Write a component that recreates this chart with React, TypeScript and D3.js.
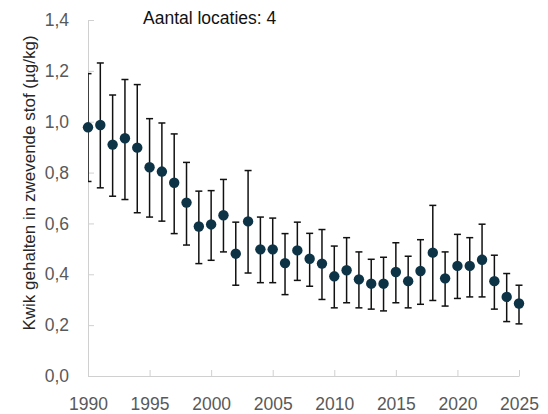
import React, { useEffect, useRef } from 'react';
import * as d3 from 'd3';

// jaartallen en waarden
const years = d3.range(1990, 2026);
const means = [
  0.978, 0.987, 0.91, 0.935, 0.898, 0.821, 0.804, 0.76, 0.682, 0.588,
  0.596, 0.632, 0.481, 0.608, 0.498, 0.498, 0.444, 0.494, 0.461, 0.442,
  0.392, 0.416, 0.38, 0.363, 0.363, 0.409, 0.373, 0.413, 0.485, 0.384,
  0.433, 0.433, 0.457, 0.373, 0.311, 0.285,
];
const upper = [
  1.189, 1.231, 1.105, 1.166, 1.146, 1.012, 0.995, 0.952, 0.84, 0.727,
  0.729, 0.773, 0.605, 0.808, 0.625, 0.621, 0.56, 0.605, 0.561, 0.576,
  0.511, 0.544, 0.488, 0.459, 0.467, 0.524, 0.471, 0.536, 0.671, 0.488,
  0.557, 0.544, 0.597, 0.475, 0.403, 0.357,
];
const lower = [
  0.765, 0.74, 0.707, 0.694, 0.642, 0.625, 0.609, 0.56, 0.515, 0.442,
  0.455, 0.488, 0.357, 0.405, 0.367, 0.367, 0.32, 0.376, 0.353, 0.301,
  0.268, 0.288, 0.268, 0.263, 0.256, 0.288, 0.268, 0.282, 0.297, 0.275,
  0.305, 0.311, 0.311, 0.263, 0.214, 0.205,
];
const xTicks = [1990, 1995, 2000, 2005, 2010, 2015, 2020, 2025];
const yTicks = [0, 0.2, 0.4, 0.6, 0.8, 1.0, 1.2, 1.4];

const W = 548;
const H = 414;
const margin = { top: 20, right: 29, bottom: 38, left: 88 };

const App = () => {
  const ref = useRef<SVGSVGElement>(null);

  useEffect(() => {
    const svg = d3.select(ref.current);
    svg.selectAll('*').remove();

    const x = d3.scaleLinear().domain([1990, 2025]).range([margin.left, W - margin.right]);
    const y = d3.scaleLinear().domain([0, 1.4]).range([H - margin.bottom, margin.top]);

    const font = '"Liberation Sans", Arial, sans-serif';
    const axisColor = '#d0d0d0';

    // y-as
    const gy = svg.append('g')
      .attr('transform', `translate(${margin.left},0)`)
      .call(d3.axisLeft(y)
        .tickValues(yTicks)
        .tickSizeInner(-6)
        .tickSizeOuter(0)
        .tickPadding(19)
        .tickFormat(d => d3.format('.1f')(d as number).replace('.', ',')));
    gy.select('.domain').attr('stroke', axisColor);
    gy.selectAll('.tick line').attr('stroke', axisColor);
    gy.selectAll('.tick text')
      .attr('fill', '#595959')
      .style('font-family', font)
      .style('font-size', '17.5px');

    // x-as
    const gx = svg.append('g')
      .attr('transform', `translate(0,${H - margin.bottom})`)
      .call(d3.axisBottom(x)
        .tickValues(xTicks)
        .tickSizeInner(-6)
        .tickSizeOuter(0)
        .tickPadding(22)
        .tickFormat(d => String(d)));
    gx.select('.domain').attr('stroke', axisColor);
    gx.selectAll('.tick line').attr('stroke', axisColor);
    gx.selectAll('.tick text')
      .attr('fill', '#595959')
      .style('font-family', font)
      .style('font-size', '17.5px');

    // foutbalken, geknipt op het plotgebied
    svg.append('clipPath').attr('id', 'plotclip')
      .append('rect')
      .attr('x', margin.left).attr('y', 0)
      .attr('width', W - margin.left).attr('height', H);

    const data = years.map((yr, i) => ({ yr, m: means[i], lo: lower[i], hi: upper[i] }));
    const bars = svg.append('g')
      .attr('clip-path', 'url(#plotclip)')
      .attr('stroke', '#111')
      .attr('stroke-width', 1.5);
    const capW = 3.5;
    data.forEach(d => {
      bars.append('line')
        .attr('x1', x(d.yr)).attr('x2', x(d.yr))
        .attr('y1', y(d.hi)).attr('y2', y(d.lo));
      bars.append('line')
        .attr('x1', x(d.yr) - capW).attr('x2', x(d.yr) + capW)
        .attr('y1', y(d.hi)).attr('y2', y(d.hi));
      bars.append('line')
        .attr('x1', x(d.yr) - capW).attr('x2', x(d.yr) + capW)
        .attr('y1', y(d.lo)).attr('y2', y(d.lo));
    });

    // punten
    svg.append('g')
      .selectAll('circle')
      .data(data)
      .join('circle')
      .attr('cx', d => x(d.yr))
      .attr('cy', d => y(d.m))
      .attr('r', 5.2)
      .attr('fill', '#0d3346');

    // as-titel
    svg.append('text')
      .attr('transform', 'translate(29,183) rotate(-90)')
      .attr('text-anchor', 'middle')
      .attr('dy', '0.35em')
      .attr('fill', '#262626')
      .style('font-family', font)
      .style('font-size', '17px')
      .text('Kwik gehalten in zwevende stof (µg/kg)');

    // annotatie
    svg.append('text')
      .attr('x', 143)
      .attr('y', 24)
      .attr('fill', '#111')
      .style('font-family', font)
      .style('font-size', '17.5px')
      .text('Aantal locaties: 4');
  }, []);

  return (
    <svg
      ref={ref}
      width={W}
      height={H}
      style={{ position: 'absolute', left: 0, top: 0, background: '#fff' }}
    />
  );
};

export default App;
